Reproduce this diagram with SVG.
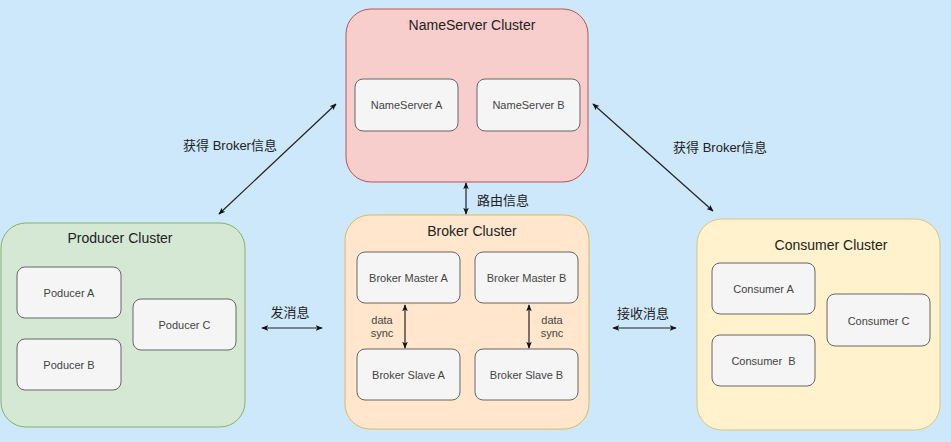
<svg xmlns="http://www.w3.org/2000/svg" width="951" height="442" viewBox="0 0 951 442">
<defs>
<style>
.t{font-family:"Liberation Sans",Arial,sans-serif;fill:#333;}
.title{font-size:14px;fill:#222;}
.inner{font-size:11px;fill:#444;}
.lbl{font-family:"Liberation Sans","Noto Sans CJK SC",sans-serif;font-size:13px;fill:#222;}
.box{fill:#f5f5f5;stroke:#666;stroke-width:1;}
.conn{stroke:#222;stroke-width:1.2;fill:none;marker-start:url(#ah);marker-end:url(#ah);}
</style>
<marker id="ah" viewBox="0 0 10 10" refX="9" refY="5" markerWidth="7" markerHeight="7" orient="auto-start-reverse" markerUnits="userSpaceOnUse">
<path d="M0,1 L10,5 L0,9 L2.5,5 Z" fill="#111"/>
</marker>
</defs>
<rect width="951" height="442" fill="#cde8fb"/>
<g id="nameserver-cluster">
<rect x="346" y="9" width="242" height="173" rx="25" fill="#f8cecc" stroke="#b85450"/>
<text class="t title" x="472" y="30" text-anchor="middle">NameServer Cluster</text>
</g>
<g id="nameserver-a"><rect class="box" x="355" y="79" width="103" height="52" rx="8"/><text class="t inner" x="406.5" y="109" text-anchor="middle">NameServer A</text></g>
<g id="nameserver-b"><rect class="box" x="477" y="79" width="103" height="52" rx="8"/><text class="t inner" x="528.5" y="109" text-anchor="middle">NameServer B</text></g>

<g id="producer-cluster">
<rect x="1" y="223" width="244" height="204" rx="25" fill="#d5e8d4" stroke="#82b366"/>
<text class="t title" x="120" y="243" text-anchor="middle">Producer Cluster</text>
</g>
<g id="producer-a"><rect class="box" x="17" y="267" width="104" height="51" rx="8"/><text class="t inner" x="69" y="297" text-anchor="middle">Poducer A</text></g>
<g id="producer-b"><rect class="box" x="17" y="339" width="104" height="51" rx="8"/><text class="t inner" x="69" y="369" text-anchor="middle">Poducer B</text></g>
<g id="producer-c"><rect class="box" x="133" y="299" width="103" height="51" rx="8"/><text class="t inner" x="184.5" y="329" text-anchor="middle">Poducer C</text></g>

<g id="broker-cluster">
<rect x="345" y="215" width="244" height="214" rx="25" fill="#ffe6cc" stroke="#d79b00" stroke-opacity="0.6"/>
<text class="t title" x="472" y="236" text-anchor="middle">Broker Cluster</text>
</g>
<g id="broker-master-a"><rect class="box" x="357" y="252" width="103" height="51" rx="8"/><text class="t inner" x="408.5" y="282" text-anchor="middle">Broker Master A</text></g>
<g id="broker-master-b"><rect class="box" x="475" y="252" width="103" height="51" rx="8"/><text class="t inner" x="526.5" y="282" text-anchor="middle">Broker Master B</text></g>
<g id="broker-slave-a"><rect class="box" x="357" y="349" width="103" height="51" rx="8"/><text class="t inner" x="408.5" y="379" text-anchor="middle">Broker Slave A</text></g>
<g id="broker-slave-b"><rect class="box" x="475" y="349" width="103" height="51" rx="8"/><text class="t inner" x="526.5" y="379" text-anchor="middle">Broker Slave B</text></g>

<g id="consumer-cluster">
<rect x="697" y="219" width="243" height="211" rx="25" fill="#fff2cc" stroke="#d6b656" stroke-opacity="0.7"/>
<text class="t title" x="831" y="250" text-anchor="middle">Consumer Cluster</text>
</g>
<g id="consumer-a"><rect class="box" x="712" y="263" width="103" height="51" rx="8"/><text class="t inner" x="763.5" y="293" text-anchor="middle">Consumer A</text></g>
<g id="consumer-b"><rect class="box" x="712" y="335" width="103" height="51" rx="8"/><text class="t inner" x="763.5" y="365" text-anchor="middle" xml:space="preserve" style="white-space:pre">Consumer  B</text></g>
<g id="consumer-c"><rect class="box" x="827" y="294" width="103" height="52" rx="8"/><text class="t inner" x="878.5" y="325" text-anchor="middle">Consumer C</text></g>

<g id="connectors">
<line class="conn" x1="219" y1="214" x2="336" y2="104"/>
<line class="conn" x1="593" y1="104" x2="713" y2="211"/>
<line class="conn" x1="466" y1="183" x2="466" y2="214"/>
<line class="conn" x1="262" y1="328" x2="322" y2="328"/>
<line class="conn" x1="613" y1="328" x2="676" y2="328"/>
<line class="conn" x1="405" y1="305" x2="405" y2="348"/>
<line class="conn" x1="529" y1="305" x2="529" y2="348"/>
<text class="lbl" x="230" y="150" text-anchor="middle">获得 Broker信息</text>
<text class="lbl" x="720" y="152" text-anchor="middle">获得 Broker信息</text>
<text class="lbl" x="503" y="205" text-anchor="middle">路由信息</text>
<text class="lbl" x="290" y="317" text-anchor="middle">发消息</text>
<text class="lbl" x="643" y="318" text-anchor="middle">接收消息</text>
<text class="t inner" x="382" y="324" text-anchor="middle" fill="#222">data</text>
<text class="t inner" x="382" y="337" text-anchor="middle" fill="#222">sync</text>
<text class="t inner" x="552" y="324" text-anchor="middle" fill="#222">data</text>
<text class="t inner" x="552" y="337" text-anchor="middle" fill="#222">sync</text>
</g>
</svg>
